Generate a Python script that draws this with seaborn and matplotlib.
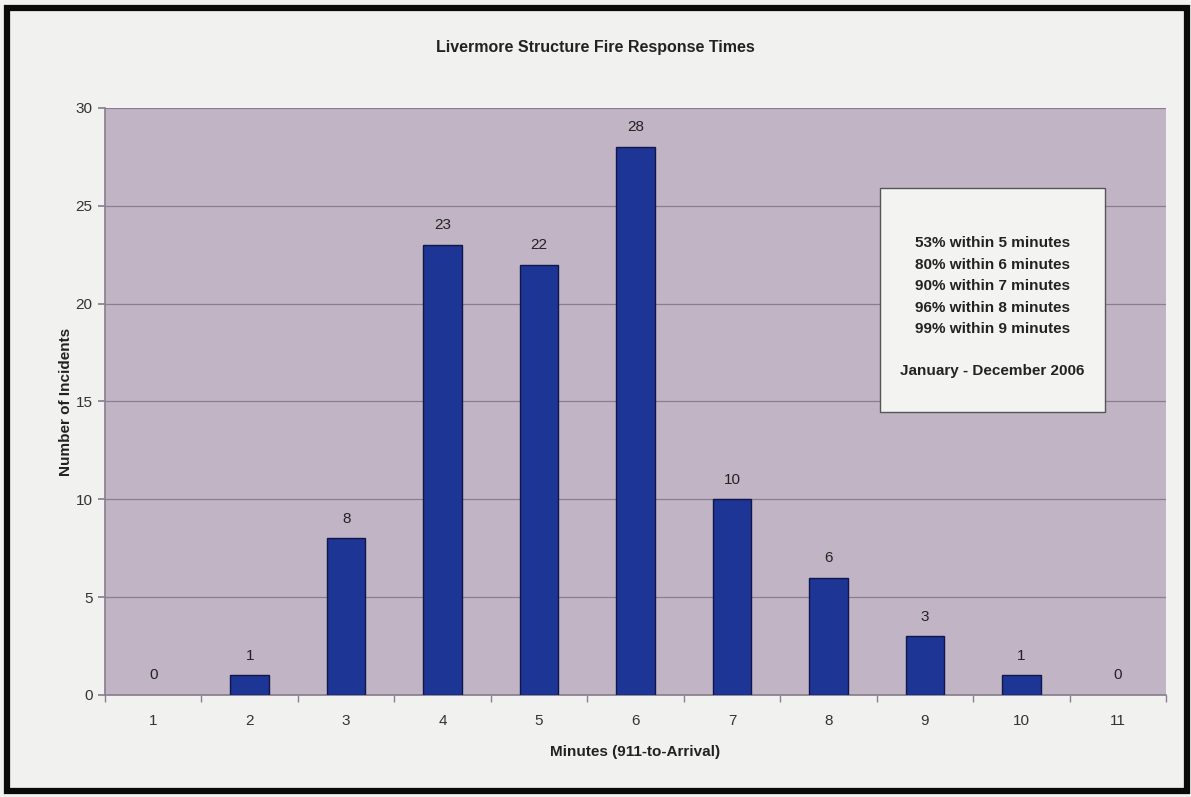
import matplotlib
matplotlib.use("Agg")
import matplotlib.pyplot as plt
import seaborn as sns
import pandas as pd
from matplotlib.patches import Rectangle

minutes = ["1", "2", "3", "4", "5", "6", "7", "8", "9", "10", "11"]
incidents = [0, 1, 8, 23, 22, 28, 10, 6, 3, 1, 0]
summary_lines = [
    "53% within 5 minutes",
    "80% within 6 minutes",
    "90% within 7 minutes",
    "96% within 8 minutes",
    "99% within 9 minutes",
]
period = "January - December 2006"

sns.set_theme(style="white")
plt.rcParams["font.family"] = ["Liberation Sans", "DejaVu Sans"]

df = pd.DataFrame({"Minutes": minutes, "Incidents": incidents})

fig = plt.figure(figsize=(11.91, 7.97), dpi=100)
fig.patch.set_facecolor("#f1f1ef")
ax = fig.add_axes([0.0882, 0.128, 0.8908, 0.7365])
ax.set_facecolor("#c1b5c5")

sns.barplot(data=df, x="Minutes", y="Incidents", ax=ax, color="#1d3595",
            width=0.4, saturation=1, edgecolor="#10164a", linewidth=1.0,
            zorder=3)

# empty categories get no visible outline
for patch, v in zip(ax.patches, incidents):
    if v == 0:
        patch.set_linewidth(0)

ax.set_ylim(0, 30)
ax.set_xlim(-0.5, len(minutes) - 0.5)
ax.set_yticks(range(0, 31, 5))
ax.yaxis.grid(True, color="#8a7d90", linewidth=0.9, zorder=0)
ax.xaxis.grid(False)
ax.set_axisbelow(True)

# value labels above bars
for i, v in enumerate(incidents):
    ax.text(i, v + 0.65, str(v), ha="center", va="bottom", fontsize=11,
            color="#222222", zorder=4)

for side in ["top", "right"]:
    ax.spines[side].set_visible(False)
ax.spines["left"].set_color("#8a8090")
ax.spines["bottom"].set_color("#8a8090")

# tick marks between categories on x, outward on y
ax.set_xticks(range(len(minutes)))
ax.set_xticklabels(minutes)
ax.set_xticks([i + 0.5 for i in range(-1, len(minutes))], minor=True)
ax.tick_params(axis="x", which="major", length=0, labelsize=11,
               colors="#333333", pad=14)
ax.tick_params(axis="x", which="minor", length=5, color="#8a8090",
               direction="out", bottom=True)
ax.tick_params(axis="y", length=5, color="#8a8090", direction="out",
               left=True, labelsize=11, labelcolor="#333333", pad=4)

ax.set_xlabel("Minutes (911-to-Arrival)", fontsize=11, fontweight="bold",
              color="#222222", labelpad=12)
ax.set_ylabel("Number of Incidents", fontsize=11, fontweight="bold",
              color="#222222", labelpad=2)

fig.text(0.5, 0.941, "Livermore Structure Fire Response Times",
         ha="center", va="center", fontsize=11.5, fontweight="bold",
         color="#222222")

# summary box
bx0, by0 = 880 / 1191, 1 - 412 / 797
bw, bh = (1105 - 880) / 1191, (412 - 188) / 797
fig.patches.append(Rectangle((bx0, by0), bw, bh, transform=fig.transFigure,
                             facecolor="#f3f3f1", edgecolor="#555555",
                             linewidth=1.0, zorder=5))
cx = bx0 + bw / 2
y = 1 - 243 / 797
for line in summary_lines:
    fig.text(cx, y, line, ha="center", va="center", fontsize=11,
             fontweight="bold", color="#222222", zorder=6)
    y -= 21.5 / 797
fig.text(cx, 1 - 371 / 797, period, ha="center", va="center", fontsize=11,
         fontweight="bold", color="#222222", zorder=6)

# outer frame
fig.patches.append(Rectangle((7 / 1191, 6 / 797), 1180 / 1191, 783 / 797,
                             transform=fig.transFigure, fill=False,
                             edgecolor="#0a0a0a", linewidth=4.5, zorder=10))

fig.savefig("out.png", dpi=100, facecolor=fig.get_facecolor())
